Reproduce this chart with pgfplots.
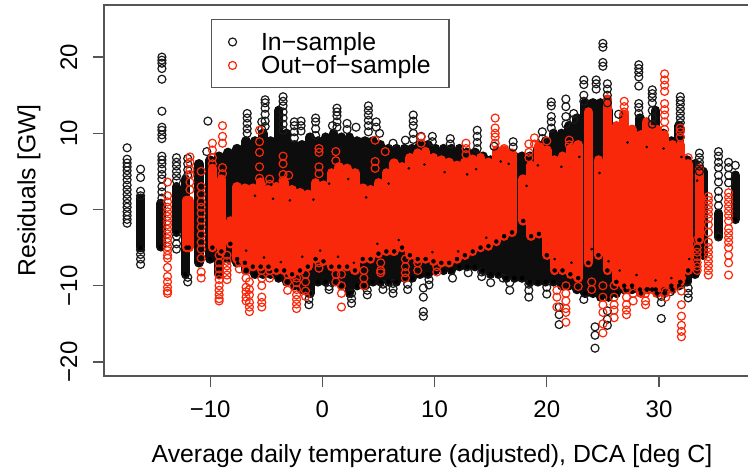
\documentclass[border=0pt]{standalone}
\usepackage{pgfplots}
\usepackage{pgfplotstable}
\pgfplotsset{compat=1.18}
\usepackage{fontspec}
\setmainfont{Liberation Sans}
\definecolor{rd}{RGB}{250,40,10}
\definecolor{axc}{RGB}{85,85,85}
\pgfplotstableread{
x lo hi
-16.2 -5.0 1.5
-14.4 -4.9 0.8
-13.0 -3.0 3.0
-12.2 -8.5 4.0
-11.0 -7.0 6.0
-10.0 -6.5 6.5
-9.2 -8.5 7.0
-8.4 -6.5 7.5
-7.6 -7.0 8.0
-6.8 -8.0 9.0
-6.0 -8.5 9.0
-5.3 -8.5 10.0
-4.6 -8.5 9.0
-3.9 -9.0 13.0
-3.2 -9.5 10.0
-2.5 -10.0 8.5
-1.8 -10.5 8.5
-1.1 -11.0 9.5
-0.4 -9.5 9.0
0.3 -9.5 9.5
1.0 -9.5 10.0
1.7 -10.0 9.5
2.4 -11.0 9.5
3.1 -10.0 9.0
3.8 -10.0 9.0
4.5 -9.5 9.0
5.2 -9.5 8.5
5.9 -9.5 8.0
6.6 -9.5 8.0
7.3 -9.0 8.0
8.0 -9.0 8.0
8.7 -8.5 8.5
9.4 -8.5 8.5
10.1 -8.0 8.0
10.8 -8.0 8.0
11.5 -8.0 8.0
12.2 -7.5 8.0
12.9 -7.5 7.5
13.6 -7.5 7.5
14.3 -8.0 7.0
15.0 -8.5 6.5
15.7 -8.5 6.8
16.4 -9.0 7.0
17.1 -9.0 7.0
17.8 -9.0 7.0
18.5 -9.5 7.0
19.2 -9.5 8.0
19.9 -9.5 9.0
20.6 -9.5 10.0
21.3 -10.0 10.0
22.0 -10.0 11.0
22.7 -10.5 12.0
23.4 -11.0 14.0
24.1 -11.0 14.0
24.8 -11.5 14.0
25.5 -11.5 13.0
26.2 -11.0 10.5
26.9 -10.5 10.5
27.6 -10.5 10.5
28.3 -10.5 12.0
29.0 -10.5 10.5
29.7 -10.5 13.0
30.4 -10.5 10.0
31.1 -10.0 9.0
31.8 -10.0 11.0
32.5 -9.5 6.5
33.2 -8.5 6.0
33.9 -6.0 5.0
35.3 -3.5 -0.5
36.8 -1.3 4.5
}\blackbody
\pgfplotstableread{
x lo hi
-12.1 -5.0 1.2
-11.9 -5.0 1.2
-9.8 -5.0 5.4
-9.0 -5.5 4.0
-8.2 -4.5 -1.5
-7.6 -6.5 3.0
-6.9 -7.0 2.8
-6.2 -7.5 2.8
-5.5 -7.5 3.6
-4.8 -7.5 2.6
-4.1 -8.0 3.0
-3.4 -8.0 3.6
-2.7 -8.5 2.6
-2.0 -8.0 2.2
-1.3 -7.5 2.0
-0.6 -6.5 3.5
0.1 -6.8 3.2
0.8 -7.5 4.8
1.5 -7.5 5.6
2.2 -7.5 5.4
2.9 -8.0 4.8
3.6 -6.5 2.8
4.3 -6.5 2.6
5.0 -5.8 3.5
5.7 -5.5 4.8
6.4 -5.5 6.1
7.1 -5.0 5.6
7.8 -6.0 6.8
8.5 -6.5 7.4
9.2 -6.5 7.6
9.9 -6.8 6.8
10.6 -7.0 6.5
11.3 -7.0 6.2
12.0 -6.5 5.8
12.7 -6.0 6.2
13.4 -5.5 6.6
14.1 -5.0 6.8
14.8 -4.8 6.2
15.5 -4.2 7.8
16.2 -3.5 7.8
16.9 -3.0 7.4
17.9 -1.5 4.0
18.6 -3.5 5.8
19.3 -3.2 8.4
20.0 -6.0 7.8
20.7 -8.0 6.5
21.4 -8.0 7.0
22.1 -8.5 8.0
22.8 -9.0 8.5
23.7 -7.0 12.8
24.6 -6.0 6.5
25.4 -8.0 14.5
26.2 -9.5 11.0
26.9 -10.0 12.5
27.6 -10.0 10.5
28.4 -11.0 9.8
28.9 -10.5 11.5
29.4 -10.5 10.5
29.8 -11.0 10.5
30.5 -11.0 9.8
31.2 -10.5 8.5
31.9 -9.5 8.5
32.6 -8.0 6.0
33.6 -4.0 5.4
}\redbody
\begin{document}
\begin{tikzpicture}
\useasboundingbox (0pt,0pt) rectangle (748pt,469pt);
\clip (0pt,0pt) rectangle (748pt,469pt);
\begin{axis}[at={(104pt,93pt)},anchor=south west,scale only axis,width=656pt,height=371pt,
 xmin=-19.46,xmax=39.0,ymin=-21.85,ymax=26.84,
 xtick={-10,0,10,20,30},xticklabels={−10,0,10,20,30},
 ytick={-20,-10,0,10,20},yticklabels={−20,−10,0,10,20},
 tick align=outside,xtick pos=bottom,ytick pos=left,
 major tick length=11pt,
 tick style={axc,line width=1.3pt},
 axis line style={axc,line width=1.5pt},
 tick label style={font=\fontsize{24}{26}\selectfont,text=black},
 xticklabel style={yshift=-10pt},
 yticklabel style={rotate=90,anchor=south,yshift=12pt},
 label style={font=\fontsize{24.8}{26}\selectfont,text=black},
 xlabel={Average daily temperature (adjusted), DCA [deg C]},
 ylabel={Residuals [GW]},
 xlabel style={yshift=-20pt},
 ylabel style={yshift=13pt},
 legend style={at={(0.163,0.962)},anchor=north west,draw=axc,line width=1.3pt,
  font=\fontsize{24.8}{26}\selectfont,inner xsep=17pt,inner ysep=11pt,row sep=1pt,
  nodes={inner sep=1.5pt},legend cell align=left},
 mycirc/.style={only marks,mark=o,mark size=4pt,mark options={line width=1.2pt}},
 body/.style={forget plot,draw=none,mark=none,only marks,
  error bars/.cd,y dir=plus,y explicit,error mark=none,
  error bar style={line width=9.5pt,line cap=round,color=#1}},
 after end axis/.code={
  \foreach \t in {-10,0,10,20,30}{\draw[axc,line width=1.3pt] (axis cs:\t,-21.85) -- ++(0pt,-11pt);}
  \foreach \t in {-20,-10,0,10,20}{\draw[axc,line width=1.3pt] (axis cs:-19.46,\t) -- ++(-11pt,0pt);}
 },
]
\addplot[mycirc,black!90] table{
x y
-17.4 8.1
-17.4 6.6
-17.4 6.1
-17.4 5.6
-17.4 5.1
-17.4 4.5
-17.4 3.9
-17.4 3.2
-17.4 2.6
-17.4 2.0
-17.4 1.4
-17.4 0.8
-17.4 0.3
-17.4 -0.3
-17.4 -0.8
-17.4 -1.3
-17.4 -1.8
-16.2 5.3
-16.2 4.2
-16.2 2.4
-16.2 1.8
-16.2 -5.3
-16.2 -5.9
-16.2 -6.5
-16.2 -7.2
-14.3 20.0
-14.3 19.6
-14.3 19.2
-14.3 18.5
-14.3 17.1
-14.3 12.9
-14.3 10.8
-14.3 10.4
-14.3 9.8
-14.3 9.3
-14.3 7.0
-14.3 6.5
-14.3 6.0
-14.3 5.3
-14.3 4.6
-14.3 4.0
-14.3 3.0
-14.3 2.3
-14.3 1.5
-13.0 6.8
-13.0 6.2
-13.0 5.7
-13.0 5.0
-13.0 4.4
-13.0 3.8
-13.0 -3.5
-13.0 -4.5
-13.0 -5.2
-12.0 6.7
-12.0 6.0
-12.0 5.2
-12.0 4.5
-12.0 -8.9
-12.0 -9.5
-10.2 11.6
-10.3 7.6
-6.7 12.6
-6.7 12.0
-6.7 11.3
-6.7 10.6
-6.7 10.0
-5.4 11.5
-5.4 10.5
-5.1 14.4
-5.1 14.0
-5.1 13.3
-5.1 12.5
-5.1 11.6
-5.1 10.9
-3.5 14.8
-3.5 14.2
-3.5 13.6
-3.5 12.8
-3.5 12.0
-3.5 11.2
-3.5 10.4
-2.5 11.5
-2.5 11.0
-2.5 10.2
-2.5 9.4
-1.9 11.6
-1.9 11.0
-1.9 10.3
-0.6 12.0
-0.6 11.5
-0.6 10.6
-0.6 9.7
0.9 11.0
1.3 13.3
1.3 12.8
1.3 12.3
1.3 11.5
1.3 10.8
2.2 11.3
2.2 10.5
3.0 10.8
4.1 13.6
4.1 13.0
4.1 12.4
4.1 11.7
4.1 11.0
4.1 10.2
4.8 11.5
4.8 10.8
5.1 10.0
6.3 8.7
7.4 9.1
8.1 12.4
8.1 11.6
8.1 11.0
8.1 10.0
8.1 9.2
8.8 9.6
9.8 9.6
9.8 8.9
11.4 9.3
11.4 8.6
13.8 10.4
13.8 9.6
13.8 8.8
13.8 8.0
15.3 8.3
17.0 8.9
17.0 8.2
19.6 10.2
19.6 9.3
20.4 14.1
20.4 13.6
20.4 12.2
20.4 11.5
20.4 10.7
21.7 14.5
21.7 13.5
21.7 12.2
21.7 11.2
22.4 12.6
22.4 11.8
23.3 17.0
23.3 16.4
23.3 15.0
23.3 14.2
24.4 17.0
24.4 16.5
24.4 15.8
25.0 21.8
25.0 21.3
25.0 19.3
25.0 18.8
25.4 16.5
25.4 15.8
25.4 15.0
25.4 14.0
26.4 12.5
28.2 19.0
28.2 18.5
28.2 18.0
28.2 17.4
28.2 16.2
28.2 13.9
28.2 13.4
28.2 12.6
29.4 15.7
29.4 15.2
29.4 14.7
29.4 14.0
29.4 13.0
29.4 12.0
29.4 11.2
31.9 14.8
31.9 14.3
31.9 13.8
31.9 13.2
31.9 12.6
31.9 12.0
31.9 11.4
31.9 10.5
31.9 9.5
33.6 7.4
33.6 6.8
33.6 6.2
33.6 5.7
33.6 5.0
35.3 7.6
35.3 7.0
35.3 6.2
35.3 5.5
35.3 4.5
35.3 3.6
35.3 2.4
35.3 1.5
35.3 0.5
35.3 -3.6
36.2 6.2
36.2 5.5
36.2 4.5
36.2 3.5
36.8 5.8
-1.2 -12.5
-1.2 -11.8
-1.2 -11.0
0.6 -10.5
0.6 -10.1
2.6 -12.3
2.6 -11.7
2.6 -11.0
4.0 -11.2
4.0 -10.6
5.4 -10.5
5.4 -9.8
6.3 -11.0
6.3 -10.4
6.3 -9.7
7.6 -10.5
7.6 -9.8
9.0 -14.0
9.0 -13.4
9.0 -11.5
9.0 -10.3
9.5 -9.9
9.5 -9.2
11.6 -9.0
13.0 -8.3
14.2 -8.8
14.2 -8.2
15.0 -9.6
16.1 -9.0
16.7 -10.6
16.7 -9.6
18.4 -11.5
18.4 -10.6
18.4 -9.8
20.0 -11.1
20.0 -10.2
21.1 -15.1
21.1 -13.8
21.1 -12.8
23.3 -11.8
24.3 -18.2
24.3 -16.5
24.3 -15.4
25.4 -15.2
25.4 -14.4
25.4 -13.3
30.2 -14.3
30.2 -12.2
30.2 -11.4
31.0 -10.8
32.6 -11.6
32.6 -11.0
32.6 -10.3
};
\addlegendentry{\hspace{23pt}In−sample}
\addplot[body=black!95] table[x=x,y=lo,y error plus expr=\thisrow{hi}-\thisrow{lo}]{\blackbody};
\addplot[mycirc,rd] table{
x y
-13.8 3.6
-13.8 1.8
-13.8 1.0
-13.8 0.3
-13.8 -0.3
-13.8 -0.9
-13.8 -1.5
-13.8 -2.0
-13.8 -2.6
-13.8 -3.2
-13.8 -3.8
-13.8 -4.3
-13.8 -4.9
-13.8 -5.4
-13.8 -6.0
-13.8 -6.4
-13.8 -7.6
-13.8 -8.8
-13.8 -9.5
-13.8 -10.2
-13.8 -10.7
-13.8 -11.0
-11.8 6.9
-11.8 6.2
-11.8 5.2
-11.8 4.6
-11.8 3.6
-11.8 2.6
-10.8 5.0
-10.8 3.0
-10.8 2.0
-10.8 1.0
-10.8 0.3
-10.8 -0.5
-10.8 -1.4
-10.8 -2.3
-10.8 -3.3
-10.8 -4.3
-10.8 -5.2
-10.8 -6.4
-10.8 -8.2
-10.8 -9.0
-9.8 8.7
-9.8 7.8
-9.8 6.8
-9.8 6.0
-8.9 11.0
-8.9 9.6
-8.9 8.7
-8.9 5.5
-8.9 4.7
-9.2 -6.0
-9.2 -7.0
-9.2 -7.8
-9.2 -8.6
-9.2 -9.2
-9.2 -10.0
-9.2 -10.6
-9.2 -11.2
-9.2 -11.7
-9.2 -12.0
-8.5 -6.0
-8.5 -6.8
-8.5 -7.4
-8.5 -8.0
-8.5 -8.6
-8.5 -9.2
-7.4 -7.0
-7.4 -7.8
-6.8 -8.0
-6.8 -9.0
-6.8 -10.2
-6.8 -10.8
-6.8 -11.5
-6.8 -12.0
-6.5 -9.5
-6.5 -10.5
-6.5 -11.2
-6.5 -12.2
-6.5 -12.8
-6.5 -13.4
-5.6 10.4
-5.6 8.9
-5.6 7.5
-5.6 5.6
-5.6 4.1
-5.4 -8.0
-5.4 -9.0
-5.4 -10.0
-5.4 -11.5
-5.4 -12.2
-5.4 -12.8
-4.7 4.0
-4.7 3.3
-4.7 -8.0
-4.7 -9.0
-3.5 7.0
-3.5 6.0
-3.5 4.6
-3.5 3.8
-3.0 4.5
-3.1 -8.5
-3.1 -9.5
-3.1 -10.6
-2.3 -9.0
-2.3 -9.6
-2.3 -10.5
-2.3 -11.2
-2.3 -11.8
-2.3 -12.4
-2.3 -13.0
-1.5 -8.5
-1.5 -9.5
-1.5 -10.7
-1.5 -11.4
-0.3 8.0
-0.3 7.5
-0.3 5.6
-0.3 4.7
-0.3 -7.0
-0.3 -7.7
1.2 7.6
1.2 6.4
1.2 -8.5
1.2 -9.5
1.7 -8.5
1.7 -10.0
1.7 -11.0
1.7 -12.8
3.7 -8.0
3.7 -9.0
3.7 -10.0
4.7 9.1
4.7 6.3
4.7 5.4
5.6 7.6
5.2 -7.0
5.2 -8.0
5.2 -8.3
7.4 -6.5
7.4 -7.5
7.4 -8.3
7.4 -9.0
8.5 -7.0
8.5 -8.0
8.8 9.5
8.8 8.7
10.2 -8.2
10.2 -7.5
12.8 8.7
12.8 8.0
12.8 7.2
15.4 12.0
15.4 10.7
15.4 10.0
15.4 9.5
15.4 8.7
16.2 8.0
18.4 8.6
18.4 7.5
18.4 6.8
18.9 9.4
18.9 8.6
20.0 9.0
22.0 9.1
22.0 8.5
20.9 -10.6
20.9 -11.5
20.9 -12.8
21.7 -10.0
21.7 -11.0
21.7 -12.0
21.7 -13.0
21.7 -13.5
21.7 -14.8
22.8 -9.0
22.8 -10.1
24.0 -9.5
24.0 -10.5
25.0 -10.0
25.0 -11.5
25.0 -12.5
25.0 -13.5
25.0 -15.0
25.0 -16.2
26.0 -10.0
26.0 -11.5
26.0 -12.5
26.0 -13.2
26.0 -14.2
26.9 14.2
26.9 13.5
26.9 12.8
27.1 -10.5
27.1 -11.5
27.1 -12.5
27.1 -13.2
27.1 -13.8
27.7 -11.0
27.7 -12.0
28.8 -11.0
28.8 -12.0
28.8 -12.5
30.5 17.8
30.5 17.0
30.5 16.3
30.5 15.5
30.5 13.9
30.5 13.1
30.5 12.4
30.5 11.5
30.5 10.5
30.6 -10.8
30.6 -11.5
31.9 10.7
31.9 10.2
31.9 9.5
32.0 -9.0
32.0 -10.7
32.0 -12.5
32.0 -14.0
32.0 -15.2
32.0 -16.0
32.0 -16.7
32.6 6.8
33.4 -4.0
33.4 -5.0
33.4 -5.6
33.4 -6.2
33.4 -7.0
33.4 -7.5
33.4 -8.0
34.4 1.7
34.4 1.2
34.4 0.6
34.4 0.0
34.4 -0.6
34.4 -1.2
34.4 -2.0
34.4 -3.0
34.4 -4.3
34.4 -5.0
34.4 -5.6
34.4 -6.2
34.4 -6.8
34.4 -7.4
34.4 -8.0
34.4 -8.6
36.2 2.2
36.2 1.6
36.2 1.0
36.2 0.4
36.2 -0.2
36.2 -0.8
36.2 -1.5
36.2 -2.5
36.2 -3.1
36.2 -3.7
36.2 -4.3
36.2 -5.0
36.2 -6.0
36.2 -7.0
36.2 -8.6
};
\addlegendentry{\hspace{23pt}Out−of−sample\hspace{-2pt}}
\addplot[body=rd] table[x=x,y=lo,y error plus expr=\thisrow{hi}-\thisrow{lo}]{\redbody};
\addplot[forget plot,only marks,mark=*,mark size=1.1pt,black] table{
x y
-6.8 -5.4
-6.0 1.8
-5.2 -6.3
-4.4 1.4
-3.7 -6.9
-2.9 1.2
-1.8 -6.2
-0.8 1.3
-0.2 -5.4
0.6 3.4
1.4 -6.2
2.3 4.0
2.8 -7.0
3.9 1.6
4.9 -4.5
5.9 3.4
6.8 -4.0
7.7 5.4
9.1 5.9
9.8 -5.6
10.9 4.9
12.1 -5.5
12.9 4.6
13.7 5.3
14.6 -3.7
15.9 6.3
16.6 6.0
18.2 3.1
19.2 5.8
20.7 -6.5
21.3 5.6
22.2 -7.0
22.9 6.9
24.0 -5.2
24.7 4.8
25.5 -6.8
26.5 -8.0
27.2 8.8
28.0 -8.6
28.9 8.2
29.7 -9.3
30.4 8.0
31.1 -9.0
32.0 6.9
32.7 -6.5
33.4 3.8
};
\end{axis}
\end{tikzpicture}
\end{document}
